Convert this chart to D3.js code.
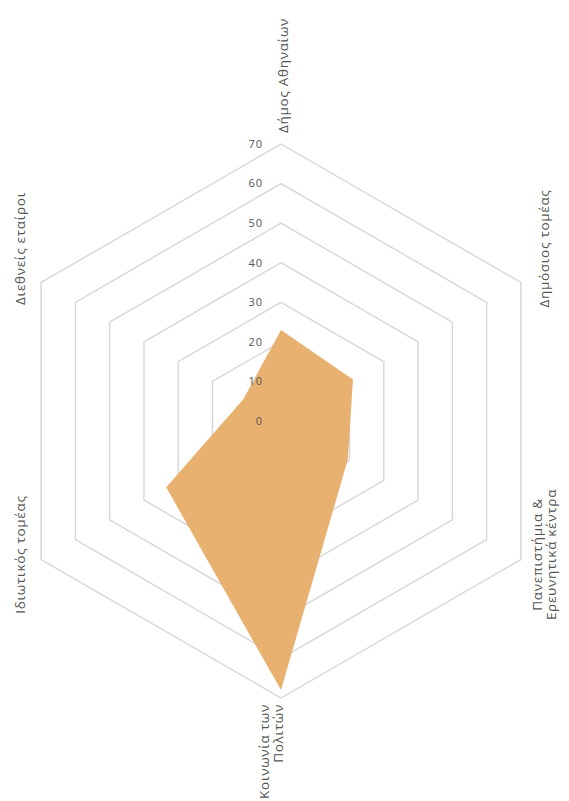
<!DOCTYPE html>
<html lang="el">
<head>
    <meta charset="utf-8" />
    <title> radar </title>
    <script src="https://cdnjs.cloudflare.com/ajax/libs/d3/7.8.5/d3.min.js"></script>
    <style>
        body { margin: 0px; background: #fff; }
        text { font-family: "Open Sans", "Noto Sans", sans-serif; fill: #555555; }
    </style>
</head>
<body>

<div id="main-window"></div>

<script>

    // άξονες με τη σειρά (δεξιόστροφα από πάνω)
    var categories = [
        ['Δήμος Αθηναίων'],
        ['Δημόσιος τομέας'],
        ['Πανεπιστήμια &', 'Ερευνητικά κέντρα'],
        ['Κοινωνία των', 'Πολιτών'],
        ['Ιδιωτικός τομέας'],
        ['Διεθνείς εταίροι']
    ];
    var values = [23, 21, 19.5, 68, 33.5, 11];
    var ticks = [0, 10, 20, 30, 40, 50, 60, 70];

    function main() {

        var width = 569, height = 801;
        var cx = 281, cy = 421, R = 277;

        var svg = d3.select('#main-window').append('svg')
                .attr('width', width)
                .attr('height', height);

        var r = d3.scaleLinear().domain([0, 70]).range([0, R]);

        var angle = d3.scaleLinear()
                .domain([0, categories.length])
                .range([-Math.PI / 2, 3 * Math.PI / 2]);

        function pt(i, v) {
            var a = angle(i);
            return [cx + r(v) * Math.cos(a), cy + r(v) * Math.sin(a)];
        }

        // πλέγμα
        var grid = svg.append('g').attr('class', 'grid');
        ticks.slice(1).forEach(function (t) {
            var pts = categories.map(function (c, i) { return pt(i, t); });
            grid.append('polygon')
                    .attr('points', pts.map(function (p) { return p.join(','); }).join(' '))
                    .style('fill', 'none')
                    .style('stroke', '#d6d6d6')
                    .style('stroke-width', 1.4);
        });

        // περιοχή δεδομένων
        var line = d3.lineRadial()
                .angle(function (d, i) { return angle(i) + Math.PI / 2; })
                .radius(function (d) { return r(d); })
                .curve(d3.curveLinearClosed);

        svg.append('path')
                .datum(values)
                .attr('transform', 'translate(' + cx + ',' + cy + ')')
                .attr('d', line)
                .style('fill', '#e9b16f')
                .style('stroke', 'none');

        // ετικέτες κλίμακας
        svg.append('g').selectAll('text')
                .data(ticks)
                .enter().append('text')
                .attr('x', cx - 18)
                .attr('y', function (d) { return cy - r(d); })
                .attr('dy', '0.35em')
                .attr('text-anchor', 'end')
                .style('font-size', '11px')
                .style('letter-spacing', '1px')
                .text(function (d) { return d; });

        // ετικέτες αξόνων (περιστραμμένες)
        var side = R * Math.cos(Math.PI / 6) + 21;
        function labelPos(i) {
            var a = angle(i), c = Math.cos(a), s = Math.sin(a);
            if (Math.abs(c) < 0.01) {
                if (s < 0) return { x: cx + 2, y: cy - R - 11, anchor: 'start' };
                return { x: cx - 10, y: cy + R + 6, anchor: 'end' };
            }
            var x = cx + (c > 0 ? side + 2 : -side);
            var y = s < 0 ? cy - R / 2 - 34 : cy + R / 2 - 5;
            return { x: x, y: y, anchor: 'middle' };
        }

        var lab = svg.append('g').selectAll('g')
                .data(categories)
                .enter().append('g')
                .attr('transform', function (d, i) {
                    var p = labelPos(i);
                    return 'translate(' + p.x + ',' + p.y + ') rotate(-90)';
                });

        lab.append('text')
                .attr('text-anchor', function (d, i) { return labelPos(i).anchor; })
                .style('font-size', '13.5px')
                .style('letter-spacing', '0.7px')
                .each(function (d) {
                    var t = d3.select(this);
                    var off = -(d.length - 1) / 2 * 1.05;
                    d.forEach(function (s, k) {
                        t.append('tspan')
                                .attr('x', 0)
                                .attr('dy', (k === 0 ? off + 0.35 : 1.05) + 'em')
                                .text(s);
                    });
                });
    }

    main();

</script>

</body>
</html>
